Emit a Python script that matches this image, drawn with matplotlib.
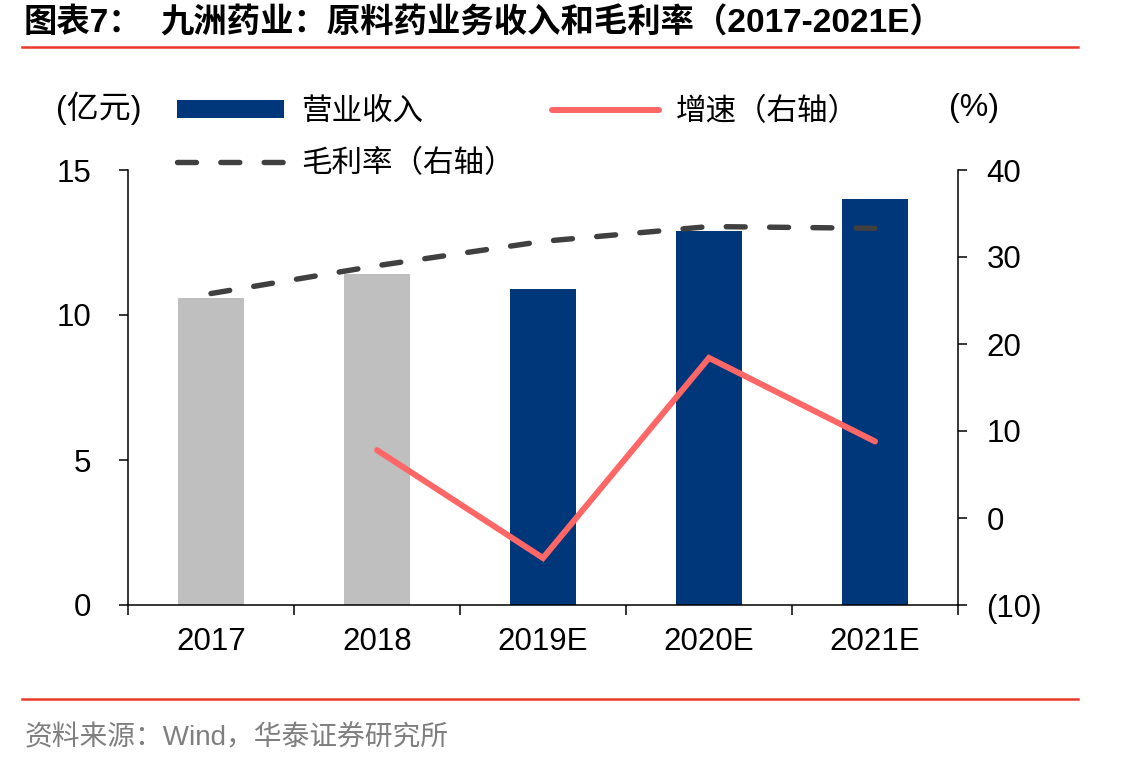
import matplotlib
matplotlib.use("Agg")
import matplotlib.pyplot as plt
from matplotlib.lines import Line2D
from matplotlib.ticker import FuncFormatter, FixedLocator
import numpy as np

# ---- data ----
categories = ["2017", "2018", "2019E", "2020E", "2021E"]
revenue = [10.6, 11.4, 10.9, 12.9, 14.0]            # 亿元
growth = [np.nan, 7.8, -4.6, 18.4, 8.8]              # % (right axis)
gross_margin = [25.8, 29.0, 31.8, 33.5, 33.3]        # % (right axis)
bar_colors = ["#BFBFBF", "#BFBFBF", "#00377A", "#00377A", "#00377A"]

left_ticks = [0, 5, 10, 15]
right_ticks = [-10, 0, 10, 20, 30, 40]

W, H = 1137, 767
FAM = ["Liberation Sans", "Noto Sans CJK SC"]
plt.rcParams["font.family"] = FAM

fig = plt.figure(figsize=(W / 100, H / 100), dpi=100)

def fx(x):
    return x / W

def fy(y):
    return 1 - y / H

ax_left, ax_right, ax_top, ax_bot = 128, 958, 170, 605
ax = fig.add_axes([fx(ax_left), fy(ax_bot), (ax_right - ax_left) / W, (ax_bot - ax_top) / H])
ax2 = ax.twinx()

x = np.arange(len(categories))
bars = ax.bar(x, revenue, width=0.4, color=bar_colors, zorder=2)
ax.set_xlim(-0.5, len(categories) - 0.5)
ax.set_ylim(0, 15)
ax.set_yticks(left_ticks)

ax2.set_ylim(-10, 40)
ax2.set_yticks(right_ticks)
ax2.yaxis.set_major_formatter(FuncFormatter(lambda v, p: f"({abs(int(v))})" if v < 0 else f"{int(v)}"))

growth_line, = ax2.plot(x, growth, color="#FF6666", lw=4.3, solid_capstyle="round",
                        solid_joinstyle="miter", zorder=3)
gm_line, = ax2.plot(x, gross_margin, color="#404040", lw=3.9, linestyle=(0, (3.5, 4.5)),
                    dash_capstyle="round", zorder=3)

# x axis: boundary ticks, labels centered
ax.xaxis.set_major_locator(FixedLocator(np.arange(-0.5, len(categories), 1.0)))
ax.set_xticklabels([])
ax.xaxis.set_minor_locator(FixedLocator(x))
ax.set_xticks(x, categories, minor=True)
ax.tick_params(axis="x", which="major", direction="out", length=7, width=1.1)
ax.tick_params(axis="x", which="minor", length=0, pad=16, labelsize=22.5)
ax.tick_params(axis="y", direction="out", length=6.5, width=1.1, pad=20, labelsize=22.5)
ax2.tick_params(axis="y", direction="out", length=6.5, width=1.1, pad=14, labelsize=22.5)

for a in (ax, ax2):
    a.spines["top"].set_visible(False)
    for s in ("left", "right", "bottom"):
        a.spines[s].set_linewidth(1.1)
ax.spines["right"].set_visible(False)
ax2.spines["left"].set_visible(False)
ax2.spines["bottom"].set_visible(False)
ax.patch.set_visible(False)

# legend
leg = ax.legend([bars.patches[-1], gm_line, growth_line],
                ["营业收入", "毛利率（右轴）", "增速（右轴）"],
                ncol=2, frameon=False, fontsize=22,
                loc="upper left", bbox_to_anchor=(fx(177), fy(97)),
                bbox_transform=fig.transFigure,
                borderpad=0, borderaxespad=0, handlelength=3.5, handleheight=0.55,
                handletextpad=0.55, columnspacing=1.25, labelspacing=0.72)

fig.text(fx(56), fy(108), "(亿元)", fontsize=23, va="center", ha="left")
fig.text(fx(949), fy(108), "(%)", fontsize=23, va="center", ha="left")

# title and decorations
fig.text(fx(24), fy(23), "图表7：", fontsize=24, fontweight="bold", va="center", ha="left")
fig.text(fx(160), fy(23), "九洲药业：原料药业务收入和毛利率（2017-2021E）", fontsize=24,
         fontweight="bold", va="center", ha="left")
fig.add_artist(Line2D([fx(22), fx(1078)], [fy(47), fy(47)], color="#E8392A", lw=1.8))
fig.add_artist(Line2D([fx(22), fx(1078)], [fy(699), fy(699)], color="#E8392A", lw=1.8))
fig.text(fx(25), fy(738), "资料来源：Wind，华泰证券研究所", fontsize=20, color="#7F7F7F",
         va="center", ha="left")

fig.savefig("out.png", dpi=100)
